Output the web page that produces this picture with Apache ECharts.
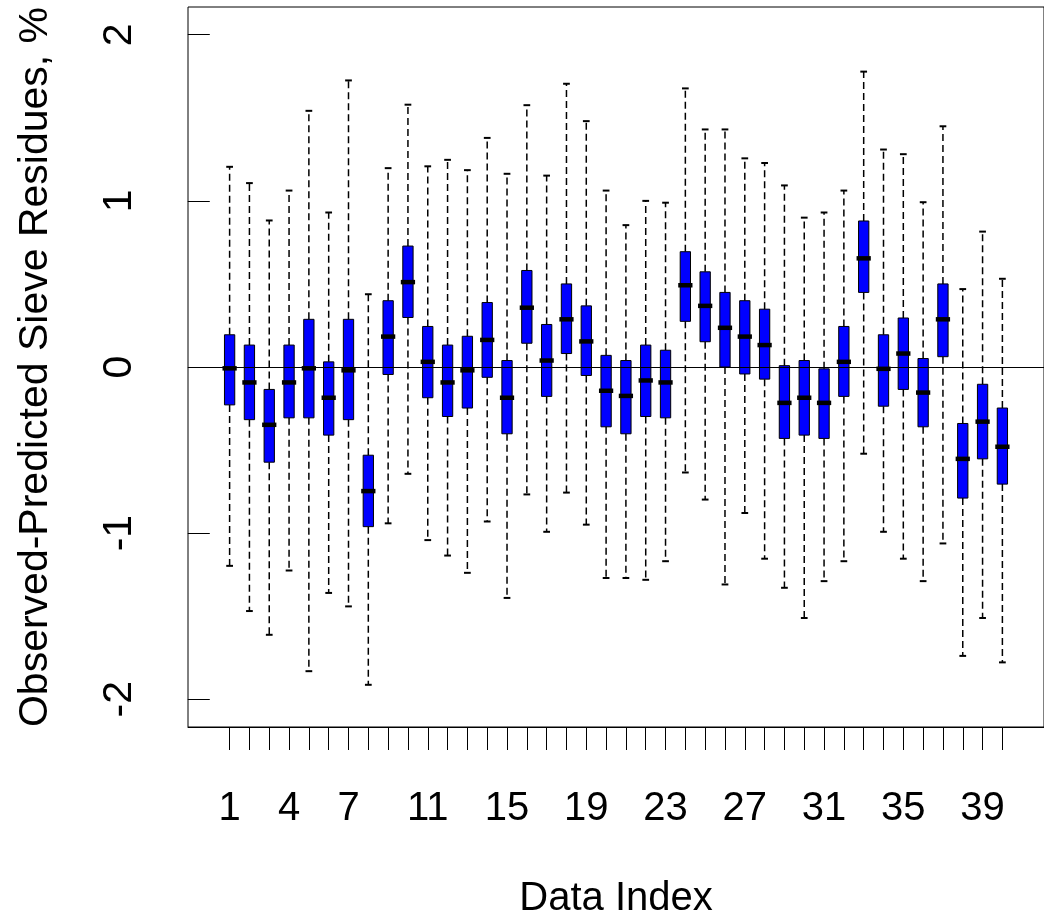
<!DOCTYPE html>
<html>
<head>
<meta charset="utf-8">
<script src="https://cdn.jsdelivr.net/npm/echarts@6/dist/echarts.min.js"></script>
<style>
  html, body { margin: 0; padding: 0; background: #fff; }
  #main { width: 1044px; height: 924px; }
</style>
</head>
<body>
<div id="main"></div>
<script>
// ---------------- data ----------------
const dataIndex = [];
for (let i = 1; i <= 40; i++) dataIndex.push(i);

const upperWhisker = [1.205, 1.107, 0.882, 1.062, 1.542, 0.930, 1.725, 0.438, 1.197, 1.579,
  1.208, 1.247, 1.185, 1.379, 1.163, 1.576, 1.152, 1.705, 1.480, 1.062,
  0.854, 1.000, 0.989, 1.677, 1.430, 1.430, 1.256, 1.228, 1.093, 0.899,
  0.930, 1.062, 1.778, 1.309, 1.281, 0.992, 1.449, 0.469, 0.815, 0.531];
const q3 = [0.194, 0.132, -0.135, 0.132, 0.287, 0.031, 0.287, -0.531, 0.399, 0.728,
  0.244, 0.132, 0.185, 0.388, 0.039, 0.581, 0.256, 0.500, 0.368, 0.070,
  0.039, 0.132, 0.101, 0.694, 0.573, 0.449, 0.399, 0.348, 0.008, 0.039,
  -0.011, 0.244, 0.879, 0.194, 0.295, 0.051, 0.500, -0.340, -0.104, -0.247];
const median = [-0.008, -0.093, -0.348, -0.093, -0.008, -0.185, -0.020, -0.747, 0.183, 0.511,
  0.031, -0.093, -0.020, 0.163, -0.185, 0.357, 0.039, 0.287, 0.154, -0.143,
  -0.174, -0.081, -0.093, 0.492, 0.368, 0.236, 0.183, 0.132, -0.216, -0.185,
  -0.216, 0.031, 0.654, -0.011, 0.081, -0.154, 0.287, -0.553, -0.329, -0.480];
const q1 = [-0.228, -0.317, -0.573, -0.306, -0.306, -0.410, -0.317, -0.961, -0.045, 0.298,
  -0.185, -0.298, -0.247, -0.062, -0.402, 0.143, -0.177, 0.081, -0.051, -0.360,
  -0.402, -0.298, -0.306, 0.275, 0.152, 0.000, -0.042, -0.073, -0.430, -0.410,
  -0.430, -0.177, 0.449, -0.236, -0.135, -0.360, 0.062, -0.789, -0.553, -0.705];
const lowerWhisker = [-1.197, -1.469, -1.612, -1.225, -1.831, -1.360, -1.441, -1.913, -0.941, -0.643,
  -1.042, -1.135, -1.239, -0.930, -1.390, -0.767, -0.992, -0.756, -0.949, -1.270,
  -1.270, -1.281, -1.169, -0.635, -0.798, -1.309, -0.879, -1.154, -1.329, -1.511,
  -1.289, -1.169, -0.522, -0.992, -1.154, -1.289, -1.062, -1.739, -1.511, -1.778];

const xLabelValues = [1, 4, 7, 11, 15, 19, 23, 27, 31, 35, 39];
const yTickValues = [-2, -1, 0, 1, 2];

// table for the custom series: [index, low, q1, median, q3, high]
const boxData = dataIndex.map((d, i) => [d, lowerWhisker[i], q1[i], median[i], q3[i], upperWhisker[i]]);

const FONT = '"Liberation Sans", Arial, Helvetica, sans-serif';

// ---------------- box plot (R style) ----------------
function renderBox(params, api) {
  const x = api.value(0);
  const unit = api.size([1, 0])[0]; // px per index
  const pLow = api.coord([x, api.value(1)]);
  const pQ1 = api.coord([x, api.value(2)]);
  const pMed = api.coord([x, api.value(3)]);
  const pQ3 = api.coord([x, api.value(4)]);
  const pHigh = api.coord([x, api.value(5)]);
  const cx = pMed[0];
  const boxHalf = unit * 0.26;
  const medHalf = unit * 0.36;
  const capHalf = unit * 0.17;

  const dashed = { stroke: "#000", lineWidth: 1.5, lineDash: [7, 4] };
  const solid = { stroke: "#000", lineWidth: 2 };

  return {
    type: "group",
    children: [
      { type: "line", shape: { x1: cx, y1: pQ3[1], x2: cx, y2: pHigh[1] }, style: dashed },
      { type: "line", shape: { x1: cx, y1: pQ1[1], x2: cx, y2: pLow[1] }, style: dashed },
      { type: "line", shape: { x1: cx - capHalf, y1: pHigh[1], x2: cx + capHalf, y2: pHigh[1] }, style: solid },
      { type: "line", shape: { x1: cx - capHalf, y1: pLow[1], x2: cx + capHalf, y2: pLow[1] }, style: solid },
      {
        type: "rect",
        shape: { x: cx - boxHalf, y: pQ3[1], width: boxHalf * 2, height: pQ1[1] - pQ3[1] },
        style: { fill: "#0000FF", stroke: "#000", lineWidth: 1 },
      },
      {
        type: "line",
        shape: { x1: cx - medHalf, y1: pMed[1], x2: cx + medHalf, y2: pMed[1] },
        style: { stroke: "#000", lineWidth: 4.5 },
      },
    ],
  };
}

let chartDom = document.getElementById("main");
let myChart = echarts.init(chartDom, null, { renderer: "canvas" });
let option;

option = {
  animation: false,
  backgroundColor: "#fff",
  grid: {
    left: 188,
    top: 7,
    width: 864,
    height: 726,
    show: true,
    borderColor: "#000",
    borderWidth: 1,
    containLabel: false,
  },
  xAxis: {
    type: "value",
    min: -1.1,
    max: 42.1,
    name: "Data Index",
    nameLocation: "middle",
    nameGap: 152,
    nameTextStyle: { fontFamily: FONT, fontSize: 40, color: "#000" },
    axisLine: { show: true, onZero: false, lineStyle: { color: "#000", width: 1 } },
    splitLine: { show: false },
    axisTick: {
      show: true,
      inside: false,
      length: 23,
      lineStyle: { color: "#000", width: 1 },
      customValues: dataIndex,
    },
    axisLabel: {
      fontFamily: FONT,
      fontSize: 40,
      color: "#000",
      margin: 62,
      customValues: xLabelValues,
    },
  },
  yAxis: {
    type: "value",
    min: -2.167,
    max: 2.167,
    name: "Observed-Predicted Sieve Residues, %",
    nameLocation: "middle",
    nameGap: 132,
    nameTextStyle: { fontFamily: FONT, fontSize: 41, color: "#000" },
    axisLine: { show: false },
    splitLine: { show: false },
    axisTick: {
      show: true,
      length: 22,
      lineStyle: { color: "#000", width: 1 },
      customValues: yTickValues,
    },
    axisLabel: {
      fontFamily: FONT,
      fontSize: 41,
      color: "#000",
      rotate: 90,
      margin: 48,
      customValues: yTickValues,
      formatter: (v) => String(v),
    },
  },
  series: [
    {
      type: "custom",
      renderItem: renderBox,
      data: boxData,
      encode: { x: 0, y: [1, 2, 3, 4, 5] },
      silent: true,
      z: 2,
      markLine: {
        silent: true,
        symbol: ["none", "none"],
        label: { show: false },
        lineStyle: { color: "#000", width: 1, type: "solid" },
        data: [{ yAxis: 0 }],
        z: 5,
      },
    },
  ],
};
myChart.setOption(option);

window.onresize = function () {
  myChart.resize();
};
</script>
</body>
</html>
